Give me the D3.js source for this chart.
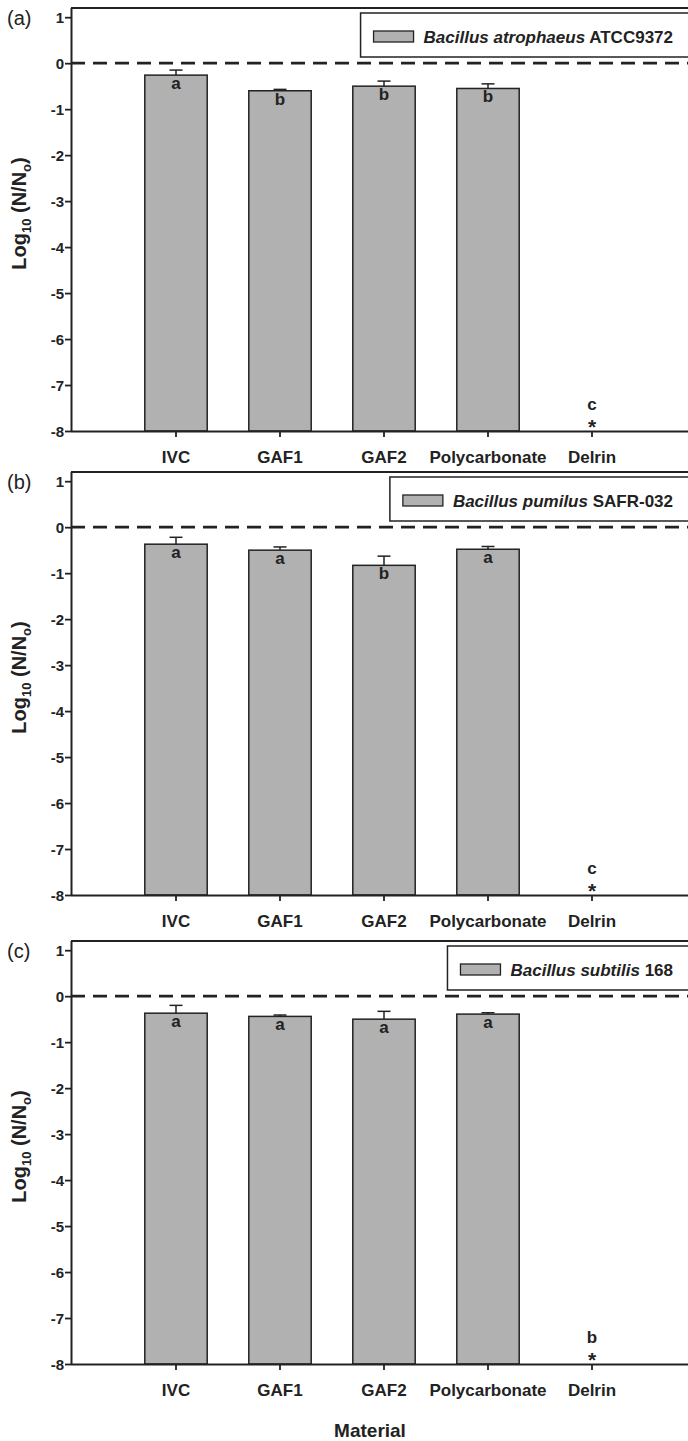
<!DOCTYPE html>
<html>
<head>
<meta charset="utf-8">
<script src="https://cdn.jsdelivr.net/npm/d3@7"></script>
<style>
  body { margin: 0; background: #fff; }
  svg { display: block; font-family: "Liberation Sans", Arial, sans-serif; }
</style>
</head>
<body>
<div id="chart"></div>
<script>
// materials on the x axis
const categories = ["IVC", "GAF1", "GAF2", "Polycarbonate", "Delrin"];
const yTicks = [-8, -7, -6, -5, -4, -3, -2, -1, 0, 1];

const panelLabels = ["(a)", "(b)", "(c)"];
const strainGenus = ["Bacillus atrophaeus", "Bacillus pumilus", "Bacillus subtilis"];
const strainId = ["ATCC9372", "SAFR-032", "168"];

// mean log reduction per material (Delrin: no survivors, no bar)
const meansA = [-0.26, -0.60, -0.50, -0.55, null];
const meansB = [-0.37, -0.50, -0.83, -0.48, null];
const meansC = [-0.37, -0.44, -0.50, -0.39, null];

// upper error bar size
const errA = [0.11, 0.03, 0.11, 0.10, null];
const errB = [0.15, 0.07, 0.20, 0.06, null];
const errC = [0.17, 0.03, 0.17, 0.03, null];

// significance letters
const lettersA = ["a", "b", "b", "b", "c"];
const lettersB = ["a", "a", "b", "a", "c"];
const lettersC = ["a", "a", "a", "a", "b"];

const panels = [
  { label: panelLabels[0], genus: strainGenus[0], id: strainId[0], means: meansA, err: errA, letters: lettersA },
  { label: panelLabels[1], genus: strainGenus[1], id: strainId[1], means: meansB, err: errB, letters: lettersB },
  { label: panelLabels[2], genus: strainGenus[2], id: strainId[2], means: meansC, err: errC, letters: lettersC }
];

const width = 688, height = 1441;
const left = 71, right = 700;
const panelTops = [8, 472, 941];
const plotH = 423;
const ink = "#222";
const barFill = "#b1b1b1";

const svg = d3.select("#chart").append("svg")
  .attr("width", width)
  .attr("height", height);

const x = d3.scaleBand()
  .domain(categories)
  .range([124, 644])
  .paddingInner(0.4)
  .paddingOuter(0.2);

panels.forEach((p, i) => {
  const top = panelTops[i];
  const y = d3.scaleLinear().domain([-8, 1.2]).range([top + plotH, top]);
  const g = svg.append("g");
  const rows = categories.map((c, j) => ({ cat: c, mean: p.means[j], err: p.err[j], letter: p.letters[j] }));

  // frame top line
  g.append("line")
    .attr("x1", left).attr("x2", right)
    .attr("y1", top).attr("y2", top)
    .attr("stroke", ink).attr("stroke-width", 2);

  // bars
  g.append("g")
    .selectAll("rect")
    .data(rows.filter(d => d.mean !== null))
    .join("rect")
    .attr("x", d => x(d.cat))
    .attr("width", x.bandwidth())
    .attr("y", d => y(d.mean))
    .attr("height", d => y(-8) - y(d.mean))
    .attr("fill", barFill)
    .attr("stroke", ink)
    .attr("stroke-width", 1.5);

  // error bars (upper)
  const eb = g.append("g").attr("stroke", ink).attr("stroke-width", 1.5);
  rows.filter(d => d.mean !== null).forEach(d => {
    const cx = x(d.cat) + x.bandwidth() / 2;
    eb.append("line").attr("x1", cx).attr("x2", cx)
      .attr("y1", y(d.mean)).attr("y2", y(d.mean + d.err));
    eb.append("line").attr("x1", cx - 6.5).attr("x2", cx + 6.5)
      .attr("y1", y(d.mean + d.err)).attr("y2", y(d.mean + d.err));
  });

  // letters inside bars
  g.append("g")
    .attr("font-size", 17).attr("font-weight", "bold").attr("fill", ink)
    .attr("text-anchor", "middle")
    .selectAll("text")
    .data(rows.filter(d => d.mean !== null))
    .join("text")
    .attr("x", d => x(d.cat) + x.bandwidth() / 2)
    .attr("y", d => y(d.mean) + 14)
    .text(d => d.letter);

  // Delrin: below detection
  rows.filter(d => d.mean === null).forEach(d => {
    const cx = x(d.cat) + x.bandwidth() / 2;
    g.append("text")
      .attr("x", cx).attr("y", y(-8) - 21)
      .attr("text-anchor", "middle")
      .attr("font-size", 17).attr("font-weight", "bold").attr("fill", ink)
      .text(d.letter);
    g.append("text")
      .attr("x", cx).attr("y", y(-8) + 3)
      .attr("text-anchor", "middle")
      .attr("font-size", 21).attr("font-weight", "bold").attr("fill", ink)
      .text("*");
  });

  // zero line
  g.append("line")
    .attr("x1", left).attr("x2", right)
    .attr("y1", y(0)).attr("y2", y(0))
    .attr("stroke", ink).attr("stroke-width", 2.8)
    .attr("stroke-dasharray", "14,8");

  // y axis
  const ya = g.append("g")
    .attr("transform", `translate(${left},0)`)
    .call(d3.axisLeft(y).tickValues(yTicks).tickFormat(d => String(d)).tickSize(6).tickSizeOuter(0));
  ya.select(".domain").attr("stroke", ink).attr("stroke-width", 2)
    .attr("d", `M0.5,${top}V${y(-8)}`);
  ya.selectAll(".tick line").attr("stroke", ink).attr("stroke-width", 1.8);
  ya.selectAll(".tick text")
    .attr("font-size", 15).attr("font-weight", "bold")
    .attr("font-family", "Liberation Sans, Arial, sans-serif")
    .attr("fill", ink).attr("x", -7).attr("dy", "0.34em");

  // x axis
  const xa = g.append("g")
    .attr("transform", `translate(0,${y(-8)})`)
    .call(d3.axisBottom(x).tickSize(6).tickSizeOuter(0));
  xa.select(".domain").attr("stroke", ink).attr("stroke-width", 2)
    .attr("d", `M${left},0.5H${right}`);
  xa.selectAll(".tick line").attr("stroke", ink).attr("stroke-width", 1.8);
  xa.selectAll(".tick text")
    .attr("font-size", 17).attr("font-weight", "bold")
    .attr("font-family", "Liberation Sans, Arial, sans-serif")
    .attr("fill", ink).attr("y", 20).attr("dy", "0.71em");

  // y title
  const yt = g.append("text")
    .attr("transform", `translate(26,${(top + y(-8)) / 2 - 6}) rotate(-90)`)
    .attr("text-anchor", "middle")
    .attr("font-size", 20).attr("font-weight", "bold").attr("fill", ink);
  yt.append("tspan").text("Log");
  yt.append("tspan").attr("font-size", 13).attr("dy", 5).text("10");
  yt.append("tspan").attr("dy", -5).text(" (N/N");
  yt.append("tspan").attr("font-size", 13).attr("dy", 5).text("o");
  yt.append("tspan").attr("dy", -5).text(")");

  // panel label
  g.append("text")
    .attr("x", 7).attr("y", top + 17)
    .attr("font-size", 20).attr("fill", ink)
    .text(p.label);

  // legend, right aligned
  const lg = g.append("g");
  const lt = lg.append("text")
    .attr("y", top + 35)
    .attr("font-size", 17).attr("font-weight", "bold").attr("fill", ink);
  lt.append("tspan").attr("font-style", "italic").text(p.genus);
  lt.append("tspan").text(" " + p.id);
  const tw = lt.node().getComputedTextLength();
  const tx = 673 - tw;
  lt.attr("x", tx);
  lg.insert("rect", "text")
    .attr("x", tx - 63).attr("y", top + 5)
    .attr("width", 760 - tx).attr("height", 44)
    .attr("fill", "#fff").attr("stroke", ink).attr("stroke-width", 1.5);
  lg.append("rect")
    .attr("x", tx - 50).attr("y", top + 23)
    .attr("width", 40).attr("height", 11)
    .attr("fill", barFill).attr("stroke", ink).attr("stroke-width", 1.3);
});

// x title
svg.append("text")
  .attr("x", 370).attr("y", 1437)
  .attr("text-anchor", "middle")
  .attr("font-size", 19).attr("font-weight", "bold").attr("fill", ink)
  .text("Material");
</script>
</body>
</html>
